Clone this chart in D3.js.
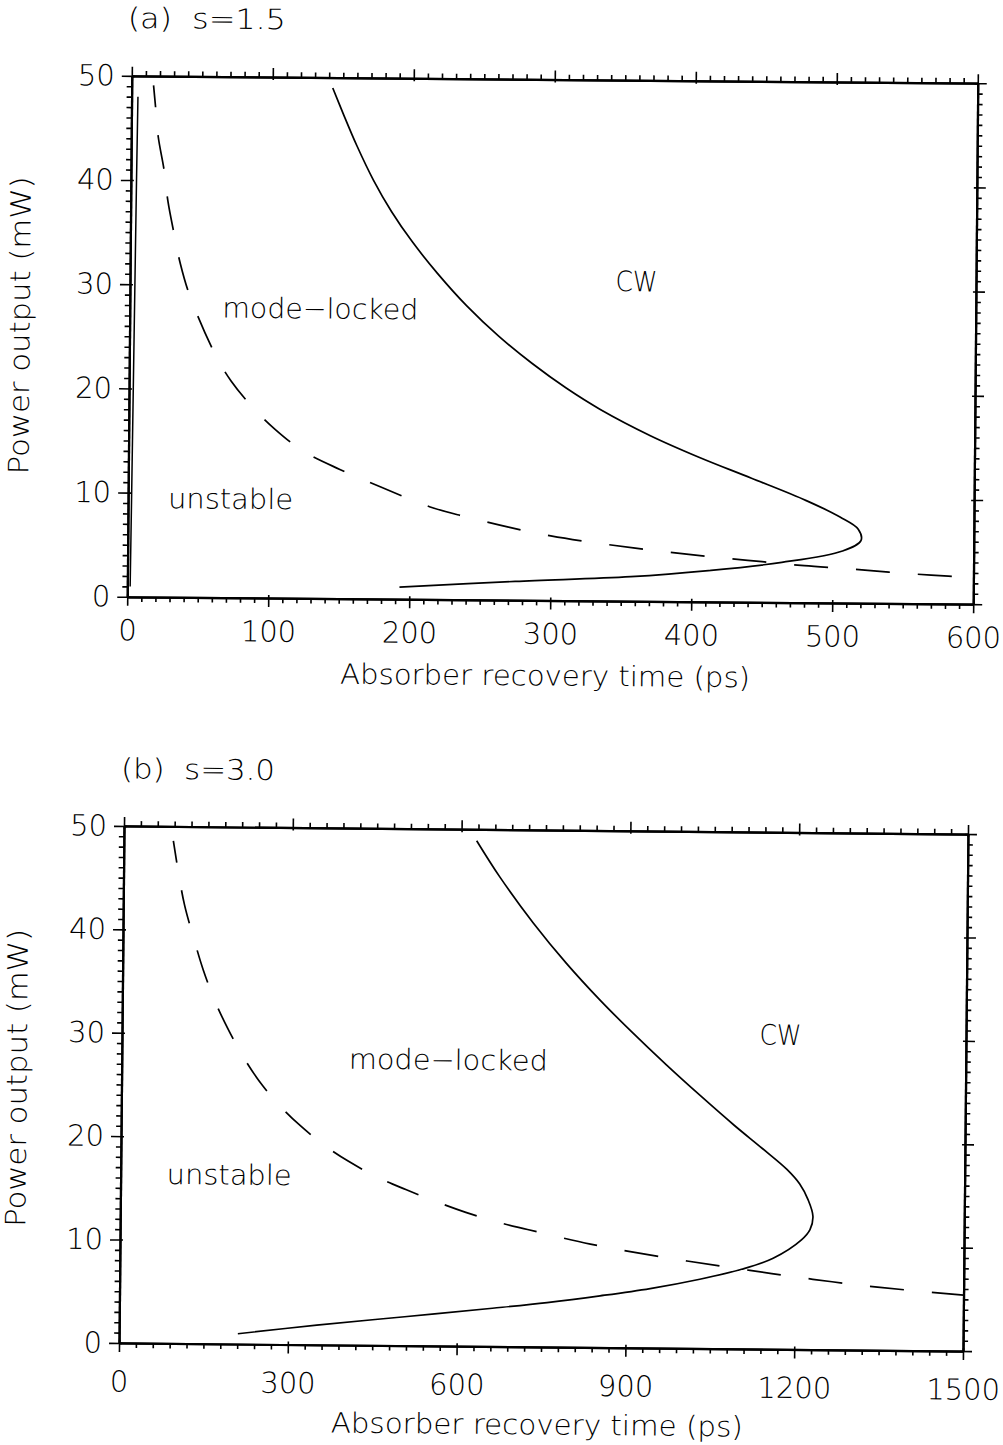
<!DOCTYPE html>
<html>
<head>
<meta charset="utf-8">
<script src="https://cdn.jsdelivr.net/npm/d3@7"></script>
<style>
  body { margin: 0; background: #fff; }
  svg { display: block; }
  text { font-family: "DejaVu Sans", sans-serif; font-weight: 200; fill: #000; }
</style>
</head>
<body>
<div class="chart"></div>
<script>
// ---- data: [recovery time (ps), power output (mW)] ----
var powerTicks = [0, 10, 20, 30, 40, 50];

// panel (a) s=1.5
var timeTicksA = [0, 100, 200, 300, 400, 500, 600];
var cwBoundaryA = [[142.6, 49], [150, 46.6], [160, 43.5], [172, 40.2], [185, 37.2], [200, 34.3],
  [218, 31.3], [239, 28.2], [262, 25.3], [286, 22.7], [310, 20.4], [334, 18.4], [370, 15.9],
  [405, 13.85], [442, 11.9], [481, 9.8], [505, 8.25], [518, 7.1], [520, 6.0], [507, 5.0],
  [464, 3.85], [412, 3.0], [357, 2.35], [275, 1.8], [193, 1.15]];
var unstableBoundaryA = [[15.5, 49.1], [17, 47.1], [19.1, 44.2], [23.6, 40.9], [26.4, 38],
  [31.1, 34.8], [35.6, 32], [42.6, 28.9], [61, 23.3], [72.3, 20.8], [88.4, 18.2],
  [103.8, 16.2], [124.2, 14.1], [150, 12.4], [180, 10.7], [216, 8.8], [240, 7.95], [270, 7.0],
  [300, 6.2], [330, 5.6], [360, 5.1], [390, 4.65], [420, 4.25], [450, 3.9], [480, 3.55],
  [510, 3.3], [540, 3.0], [570, 2.75], [600, 2.55]];
var edgeLineA = [[4.5, 48], [4, 40], [3.5, 30], [3, 20], [2.5, 10], [2, 1]];

// panel (b) s=3.0
var timeTicksB = [0, 300, 600, 900, 1200, 1500];
var cwBoundaryB = [[627, 48.9], [669, 45.4], [729, 41.0], [789, 37.1], [849, 33.6], [905, 30.6],
  [968, 27.4], [1030, 24.4], [1090, 21.6], [1140, 19.4], [1184, 17.4], [1207, 16.0],
  [1222, 14.5], [1231, 12.9], [1226, 11.6], [1211, 10.6], [1161, 8.8], [1105, 7.7],
  [1031, 6.7], [943, 5.75], [854, 5.0], [760, 4.3], [663, 3.7], [507, 2.8], [351, 1.9],
  [211, 1.0]];
var unstableBoundaryB = [[88, 48.6], [98, 45.4], [109, 42.4], [128, 38.8], [143, 36.2],
  [165, 33.1], [188, 30.5], [219, 27.5], [251, 25.0], [285, 22.9], [318, 21.2], [359, 19.4],
  [404, 17.8], [459, 16.2], [507, 15.1], [564, 13.9], [614, 12.95], [673, 12.0], [724, 11.35],
  [784, 10.6], [836, 10.0], [907, 9.3], [1008, 8.45], [1120, 7.6], [1232, 6.8], [1347, 6.1],
  [1500, 5.4]];

var svg = d3.select(".chart").append("svg")
  .attr("width", 1003)
  .attr("height", 1445);

function range(start, stop, step) {
  return d3.range(start, stop + step / 2, step);
}

function drawPanel(p) {
  var cx = (p.left + p.right) / 2, cy = (p.top + p.bottom) / 2;
  // the scanned figure sits slightly rotated
  var chart = svg.append("g")
    .attr("transform", "rotate(" + p.angle + "," + cx + "," + cy + ")");

  var x = d3.scaleLinear().domain([0, p.xMax]).range([p.left, p.right]);
  var y = d3.scaleLinear().domain([0, 50]).range([p.bottom, p.top]);

  var minorX = range(0, p.xMax, p.xMinor).filter(function (d) { return p.xTicks.indexOf(d) < 0; });
  var minorY = range(0, 50, 1).filter(function (d) { return powerTicks.indexOf(d) < 0; });

  function styleAxis(g, labels) {
    g.select(".domain").attr("stroke", "#000").attr("stroke-width", 2.2);
    g.selectAll(".tick line").attr("stroke", "#000").attr("stroke-width", 1.6);
    g.selectAll(".tick text")
      .attr("font-family", "DejaVu Sans, sans-serif")
      .attr("font-size", labels ? 29 : 0)
      .attr("font-weight", 200);
  }

  // bottom
  chart.append("g").attr("transform", "translate(0," + p.bottom + ")")
    .call(d3.axisBottom(x).tickValues(minorX).tickSize(5).tickSizeOuter(0).tickFormat(""))
    .call(styleAxis, false);
  chart.append("g").attr("transform", "translate(0," + p.bottom + ")")
    .call(d3.axisBottom(x).tickValues(p.xTicks).tickSize(9).tickSizeOuter(0)
      .tickPadding(p.xPad).tickFormat(d3.format("d")))
    .call(styleAxis, true)
    .selectAll(".tick line").attr("y1", -3);
  // top
  chart.append("g").attr("transform", "translate(0," + p.top + ")")
    .call(d3.axisTop(x).tickValues(minorX).tickSize(5).tickSizeOuter(0).tickFormat(""))
    .call(styleAxis, false);
  chart.append("g").attr("transform", "translate(0," + p.top + ")")
    .call(d3.axisTop(x).tickValues(p.xTicks).tickSize(9).tickSizeOuter(0).tickFormat(""))
    .call(styleAxis, false)
    .selectAll(".tick line").attr("y1", 3);
  // left
  chart.append("g").attr("transform", "translate(" + p.left + ",0)")
    .call(d3.axisLeft(y).tickValues(minorY).tickSize(5).tickSizeOuter(0).tickFormat(""))
    .call(styleAxis, false);
  chart.append("g").attr("transform", "translate(" + p.left + ",0)")
    .call(d3.axisLeft(y).tickValues(powerTicks).tickSize(10).tickSizeOuter(0)
      .tickPadding(7).tickFormat(d3.format("d")))
    .call(styleAxis, true)
    .selectAll(".tick line").attr("x1", 3);
  // right
  chart.append("g").attr("transform", "translate(" + p.right + ",0)")
    .call(d3.axisRight(y).tickValues(minorY).tickSize(5).tickSizeOuter(0).tickFormat(""))
    .call(styleAxis, false);
  chart.append("g").attr("transform", "translate(" + p.right + ",0)")
    .call(d3.axisRight(y).tickValues(powerTicks).tickSize(9).tickSizeOuter(0).tickFormat(""))
    .call(styleAxis, false)
    .selectAll(".tick line").attr("x1", -3);

  var line = d3.line()
    .x(function (d) { return x(d[0]); })
    .y(function (d) { return y(d[1]); })
    .curve(d3.curveCatmullRom.alpha(0.5));

  chart.append("path").datum(p.cw)
    .attr("d", line).attr("fill", "none").attr("stroke", "#000").attr("stroke-width", 1.7);
  chart.append("path").datum(p.unstable)
    .attr("d", line).attr("fill", "none").attr("stroke", "#000").attr("stroke-width", 1.7)
    .attr("stroke-dasharray", "34,28").attr("stroke-dashoffset", 12);
  if (p.edge) {
    chart.append("path").datum(p.edge)
      .attr("d", line.curve(d3.curveLinear)).attr("fill", "none")
      .attr("stroke", "#000").attr("stroke-width", 1.5);
  }

  // region names and titles
  p.texts.forEach(function (t) {
    var el = chart.append("text")
      .attr("x", t.x).attr("y", t.y)
      .attr("text-anchor", "middle")
      .attr("dominant-baseline", "central")
      .attr("font-size", t.size)
      .text(t.label);
    if (t.rotate) el.attr("transform", "rotate(-90," + t.x + "," + t.y + ")");
    if (t.w) el.attr("textLength", t.w).attr("lengthAdjust", "spacingAndGlyphs");
  });
}

drawPanel({
  left: 129.5, right: 975.5, top: 79.5, bottom: 600.5, angle: 0.5,
  xMax: 600, xMinor: 10, xTicks: timeTicksA, xPad: 14,
  cw: cwBoundaryA, unstable: unstableBoundaryA, edge: edgeLineA,
  texts: [
    { label: "(a)\u00a0\u00a0s=1.5", x: 204, y: 22, size: 28, w: 158 },
    { label: "Absorber recovery time (ps)", x: 548, y: 676, size: 28, w: 410 },
    { label: "Power output (mW)", x: 20, y: 330, size: 28, w: 298, rotate: true },
    { label: "mode\u2212locked", x: 320, y: 311, size: 28, w: 196 },
    { label: "CW", x: 636, y: 281, size: 28, w: 42 },
    { label: "unstable", x: 232, y: 502, size: 28, w: 125 }
  ]
});

drawPanel({
  left: 121.5, right: 965.5, top: 830, bottom: 1347, angle: 0.55,
  xMax: 1500, xMinor: 30, xTicks: timeTicksB, xPad: 19,
  cw: cwBoundaryB, unstable: unstableBoundaryB,
  texts: [
    { label: "(b)\u00a0\u00a0s=3.0", x: 195, y: 773, size: 28, w: 154 },
    { label: "Absorber recovery time (ps)", x: 540, y: 1425, size: 28, w: 412 },
    { label: "Power output (mW)", x: 17, y: 1083, size: 28, w: 298, rotate: true },
    { label: "mode\u2212locked", x: 448, y: 1061, size: 28, w: 199 },
    { label: "CW", x: 780, y: 1033, size: 28, w: 42 },
    { label: "unstable", x: 230, y: 1178, size: 28, w: 125 }
  ]
});
</script>
</body>
</html>
